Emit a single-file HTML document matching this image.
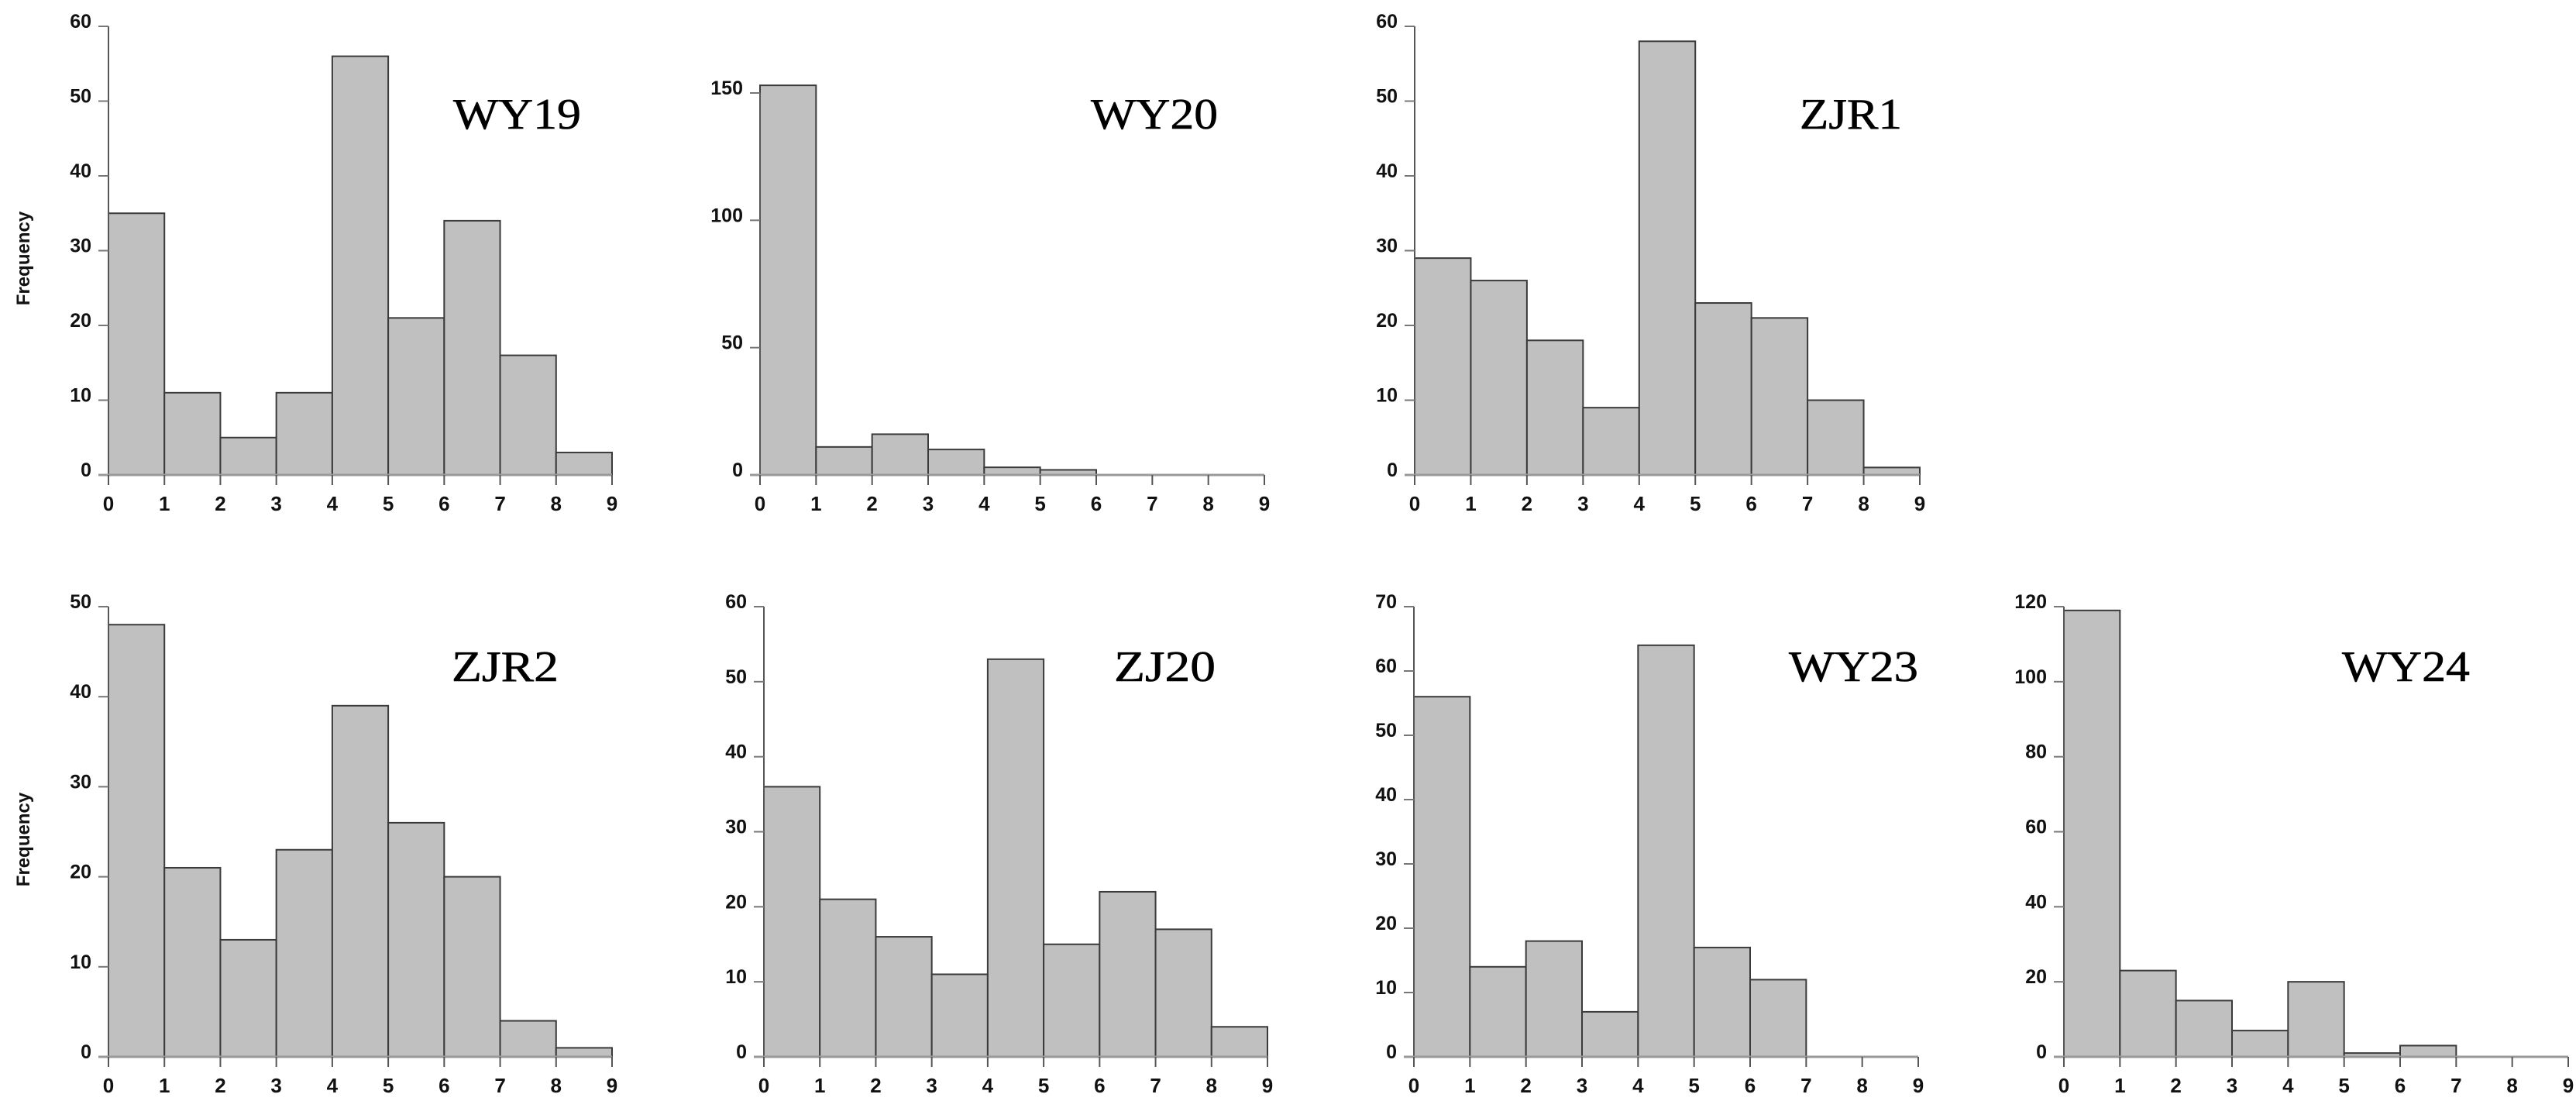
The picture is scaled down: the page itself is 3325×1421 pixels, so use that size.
<!DOCTYPE html>
<html><head><meta charset="utf-8">
<style>
html,body{margin:0;padding:0;background:#fff;}
svg{display:block;}
</style></head>
<body>
<svg id="chart" width="3325" height="1421" viewBox="0 0 3325 1421" xmlns="http://www.w3.org/2000/svg"></svg>
<script>
const panelNames = ["WY19","WY20","ZJR1","ZJR2","ZJ20","WY23","WY24"];
const wy19Values = [35,11,5,11,56,21,34,16,3];
const wy20Values = [153,11,16,10,3,2,0,0,0];
const zjr1Values = [29,26,18,9,58,23,21,10,1];
const zjr2Values = [48,21,13,23,39,26,20,4,1];
const zj20Values = [36,21,16,11,53,15,22,17,4];
const wy23Values = [56,14,18,7,64,17,12,0,0];
const wy24Values = [119,23,15,7,20,1,3,0,0];
const xTickLabels = ["0","1","2","3","4","5","6","7","8","9"];
const wy19Ticks = [0,10,20,30,40,50,60];
const wy20Ticks = [0,50,100,150];
const zjr1Ticks = [0,10,20,30,40,50,60];
const zjr2Ticks = [0,10,20,30,40,50];
const zj20Ticks = [0,10,20,30,40,50,60];
const wy23Ticks = [0,10,20,30,40,50,60,70];
const wy24Ticks = [0,20,40,60,80,100,120];

const NS = "http://www.w3.org/2000/svg";
const svg = document.getElementById("chart");
function mk(tag, attrs, parent){
  const e = document.createElementNS(NS, tag);
  for (const k in attrs) e.setAttribute(k, attrs[k]);
  (parent||svg).appendChild(e);
  return e;
}
const layouts = [
  {x0:140,x1:790,yTop:34,yBot:613,title:[585,166,165],freq:true},
  {x0:981,x1:1632,yTop:120,yBot:613,title:[1408,166,164],freq:false},
  {x0:1826,x1:2478,yTop:34,yBot:613,title:[2323,166,132],freq:false},
  {x0:140,x1:790,yTop:783,yBot:1364,title:[583,879,138],freq:true},
  {x0:986,x1:1636,yTop:783,yBot:1364,title:[1438,879,131],freq:false},
  {x0:1825,x1:2476,yTop:783,yBot:1364,title:[2309,879,167],freq:false},
  {x0:2664,x1:3315,yTop:783,yBot:1364,title:[3023,879,165],freq:false}
];
const valuesList = [wy19Values,wy20Values,zjr1Values,zjr2Values,zj20Values,wy23Values,wy24Values];
const ticksList = [wy19Ticks,wy20Ticks,zjr1Ticks,zjr2Ticks,zj20Ticks,wy23Ticks,wy24Ticks];

panelNames.forEach((name, p) => {
  const L = layouts[p], vals = valuesList[p], ticks = ticksList[p];
  const ymax = ticks[ticks.length-1];
  const xs = v => L.x0 + (L.x1 - L.x0) * v / 9;
  const ys = v => L.yBot - (L.yBot - L.yTop) * v / ymax;
  const g = mk("g", {});
  
  
  vals.forEach((v, i) => {
    if (v <= 0) return;
    const r = mk("rect", {x: xs(i), y: ys(v), width: xs(i+1)-xs(i), height: L.yBot - ys(v), fill:"#c0c0c0", stroke:"#3a3a3a", "stroke-width":2}, g);
    
    
  });
  const ya = mk("line", {x1:L.x0, x2:L.x0, y1:ys(ymax), y2:L.yBot, stroke:"#555", "stroke-width":2}, g);
  
  
  ticks.forEach(t => {
    mk("line", {x1:L.x0-13, x2:L.x0, y1:ys(t), y2:ys(t), stroke:"#777", "stroke-width":2}, g);
    const tl = mk("text", {x:L.x0-22, y:ys(t)+2, "text-anchor":"end", "font-family":"Liberation Sans, sans-serif", "font-weight":"bold", "font-size":25, fill:"#111"}, g);
    tl.textContent = t;
    
    
  });
  const xa = mk("line", {x1:L.x0-13, x2:L.x1, y1:L.yBot, y2:L.yBot, stroke:"#999", "stroke-width":3}, g);
  
  
  xTickLabels.forEach((lab, i) => {
    mk("line", {x1:xs(i), x2:xs(i), y1:L.yBot, y2:L.yBot+13, stroke:"#555", "stroke-width":2}, g);
    const tl = mk("text", {x:xs(i), y:L.yBot+46, "text-anchor":"middle", "font-family":"Liberation Sans, sans-serif", "font-weight":"bold", "font-size":26, fill:"#111"}, g);
    tl.textContent = lab;
    
    
  });
  const tt = mk("text", {x:L.title[0], y:L.title[1], "font-family":"Liberation Serif, serif", "font-size":56, fill:"#000", stroke:"#000", "stroke-width":0.6, textLength:L.title[2], lengthAdjust:"spacingAndGlyphs"}, g);
  tt.textContent = name;
  
  
  if (L.freq) {
    const cy = (L.yTop + L.yBot) / 2 + 10;
    const ft = mk("text", {x:0, y:0, transform:"translate(38," + cy + ") rotate(-90)", "text-anchor":"middle", "font-family":"Liberation Sans, sans-serif", "font-weight":"bold", "font-size":24, fill:"#111"}, g);
    ft.textContent = "Frequency";
    
    
  }
});
</script>
</body></html>
